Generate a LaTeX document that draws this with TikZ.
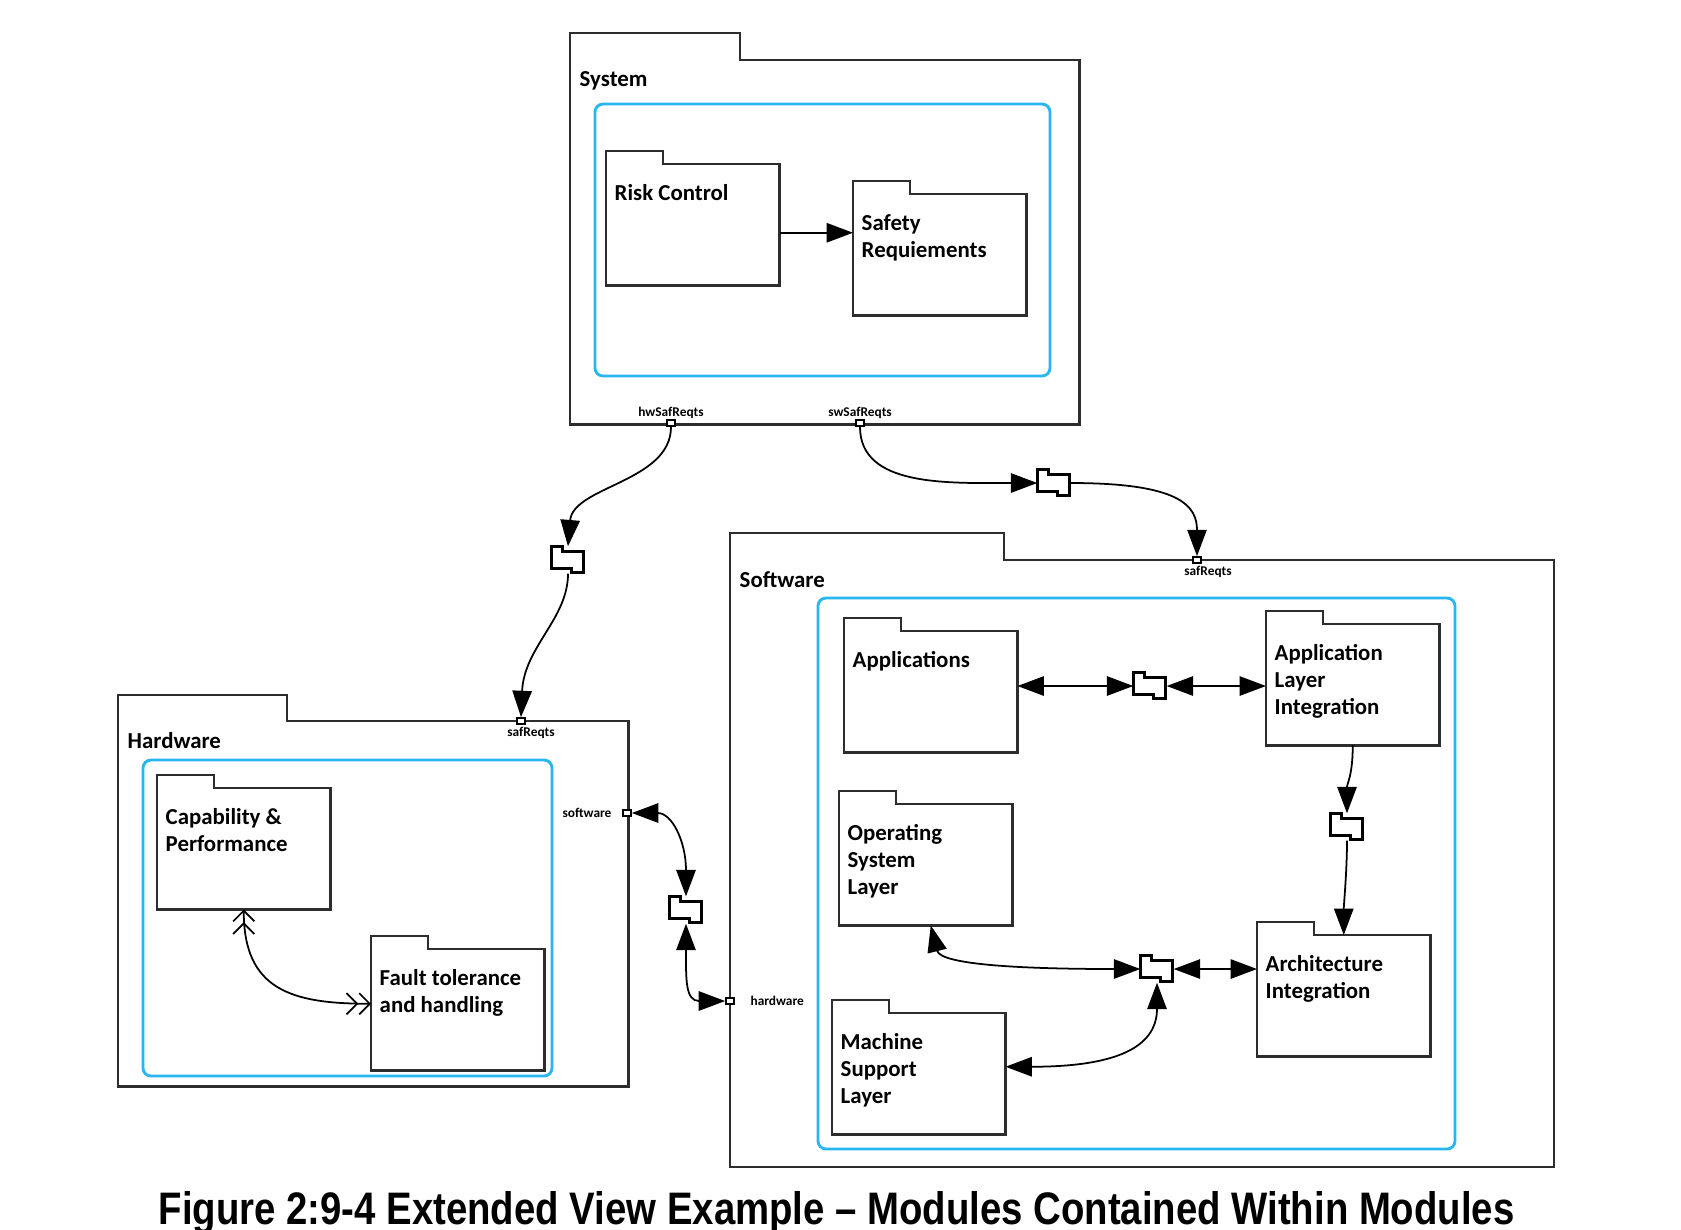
\documentclass[tikz,border=0pt]{standalone}
\usepackage{fontspec}
\setmainfont{Carlito}
\newfontfamily\capfont{Liberation Sans}
\usetikzlibrary{arrows.meta}
\definecolor{pkgcol}{RGB}{45,45,45}
\definecolor{frameblue}{RGB}{40,182,240}

\begin{document}
\begin{tikzpicture}[x=0.01cm, y=-0.01cm]
      \tikzset{pkg/.style={anchor=north west, inner sep=0pt,
          minimum width=1.72cm, minimum height=1.2cm},
        pkgline/.style={draw=pkgcol, line width=0.7pt},
        pkgname/.style={anchor=north west, inner sep=0pt, align=left,
          font=\fontsize{6.5}{7.7}\selectfont\bfseries,
          xshift=0.08cm, yshift=-0.195cm},
        ttl/.style={anchor=north west, inner sep=0pt,
          font=\fontsize{6.5}{7.7}\selectfont\bfseries,
          xshift=0.09cm, yshift=-0.11cm},
        frame/.style={draw=frameblue, line width=0.8pt, rounded corners=0.08cm},
        port/.style={draw=black, fill=white, line width=0.5pt, inner sep=0pt,
          minimum width=0.08cm, minimum height=0.06cm},
        portlbl/.style={font=\fontsize{3.8}{4.5}\selectfont\bfseries, inner sep=0pt},
        conn/.style={inner sep=0pt, minimum width=0.32cm, minimum height=0.26cm},
        flow/.style={line width=0.5pt, -{Triangle[length=7.5pt,width=5.5pt]}},
        bi/.style={line width=0.5pt,
          {Triangle[length=7.5pt,width=5.5pt]}-{Triangle[length=7.5pt,width=5.5pt]}},
        dbl/.style={line width=0.5pt,
          {Straight Barb[length=3pt,width=6pt] Straight Barb[length=3pt,width=6pt]}-{Straight Barb[length=3pt,width=6pt] Straight Barb[length=3pt,width=6pt]}}
      }
      \useasboundingbox (0,0) rectangle (1681,1229);

      % outer packages
      \node [pkg, minimum width=5.08cm, minimum height=3.63cm,
        label={[ttl]north west:System}] (Sys) at (570,60) {};
      \node [pkg, minimum width=5.09cm, minimum height=3.64cm,
        label={[ttl]north west:Hardware}] (Hw) at (118,721) {};
      \node [pkg, minimum width=8.22cm, minimum height=6.05cm,
        label={[ttl]north west:Software}] (Sw) at (730,560) {};

      \draw [frame] (595,104) rectangle (1050,376);
      \draw [frame] (143,760) rectangle (552,1076);
      \draw [frame] (818,598) rectangle (1455,1149);

      % inner packages
      \node [pkg, label={[pkgname]north west:Risk Control}] (RC) at (606,164) {};
      \node [pkg, label={[pkgname]north west:Safety\\Requiements}] (SR) at (853,194) {};
      \node [pkg, label={[pkgname]north west:Capability \&\\Performance}] (CP) at (157,788) {};
      \node [pkg, label={[pkgname]north west:Fault tolerance\\and handling}] (FT) at (371,949) {};
      \node [pkg, label={[pkgname]north west:Applications}] (AP) at (844,631) {};
      \node [pkg, label={[pkgname]north west:Application\\Layer\\Integration}] (ALI) at (1266,624) {};
      \node [pkg, label={[pkgname]north west:Operating\\System\\Layer}] (OS) at (839,804) {};
      \node [pkg, label={[pkgname]north west:Machine\\Support\\Layer}] (MS) at (832,1013) {};
      \node [pkg, label={[pkgname]north west:Architecture\\Integration}] (AI) at (1257,935) {};

      % folder outlines with tabs
      \foreach \n/\tw/\th in {Sys/170/27, Hw/169/26, Sw/274/27, RC/57/13, SR/57/13,
          CP/57/13, FT/57/13, AP/57/13, ALI/57/13, OS/57/13, MS/57/13, AI/57/13}
        \draw [pkgline] (\n.south west) -- (\n.north west) -- ++(0,-\th) -- ++(\tw,0)
          -- ++(0,\th) -- (\n.north east) -- (\n.south east) -- cycle;

      % ports
      \node [port, label={[portlbl]above:hwSafReqts}] (hwP) at (671,423) {};
      \node [port, label={[portlbl]above:swSafReqts}] (swP) at (860,423) {};
      \node [port, label={[portlbl, xshift=0.1cm, yshift=-0.02cm]below:safReqts}] (hwsP) at (521,721) {};
      \node [port, label={[portlbl, label distance=0.1cm]left:software}] (softP) at (627,813) {};
      \node [port, label={[portlbl, xshift=0.11cm, yshift=-0.02cm]below:safReqts}] (swsP) at (1197,560) {};
      \node [port, label={[portlbl, label distance=0.15cm]right:hardware}] (hardP) at (730,1001) {};

      % connector icons
      \node [conn] (c1) at (1054,483) {};
      \node [conn] (c2) at (568,560) {};
      \node [conn] (c3) at (686,910) {};
      \node [conn] (c4) at (1150,686) {};
      \node [conn] (c5) at (1347,827) {};
      \node [conn] (c6) at (1157,969) {};
      \foreach \c in {c1,c2,c3,c4,c5,c6}
        \draw [line width=0.8pt, fill=white] (\c.north west) -- ++(11,0) -- ++(0,5) -- ++(21,0)
          -- ++(0,21) -- ++(-12,0) -- ++(0,-4) -- ++(-20,0) -- cycle;

      % connectors
      \draw [flow] ([yshift=-0.08cm]RC.east) -- ([yshift=-0.08cm]RC.east -| SR.west);
      \draw [flow] (hwP.south) .. controls +(0,55) and +(5,-60) .. (c2.north);
      \draw [flow] (c2.south) .. controls +(0,45) and +(3,-70) .. (hwsP.north);
      \draw [flow] (swP.south) .. controls +(0,60) and +(-90,0) .. (c1.west);
      \draw [flow] (c1.east) .. controls +(110,0) and +(0,-50) .. (swsP.north);
      \draw [bi] (softP.east) .. controls +(40,0) and +(0,-55) .. (c3.north);
      \draw [bi] (c3.south) .. controls +(0,55) and +(-40,0) .. (hardP.west);
      \draw [bi] (c4.west) -- (c4.west -| AP.east);
      \draw [bi] (c4.east) -- (c4.east -| ALI.west);
      \draw [flow] (ALI.south) .. controls +(0,30) and +(0,-30) .. (c5.north);
      \draw [flow] (c5.south) .. controls +(0,30) and +(0,-30) .. (AI.north);
      \draw [bi] ([xshift=0.05cm]OS.south) .. controls +(10,40) and +(-110,0) .. (c6.west);
      \draw [bi] (c6.east) -- (c6.east -| AI.west);
      \draw [bi] ([yshift=0.07cm]MS.east) .. controls +(120,0) and +(0,60) .. (c6.south);
      \draw [dbl] (CP.south) .. controls +(0,80) and +(-80,0) .. ([yshift=0.06cm]FT.west);

      \node [anchor=base west, inner sep=0pt] (cap) at (158,1224)
        {\resizebox{13.55cm}{0.33cm}{\capfont\bfseries Figure 2:9-4 Extended View Example – Modules Contained Within Modules}};
\end{tikzpicture}
\end{document}
